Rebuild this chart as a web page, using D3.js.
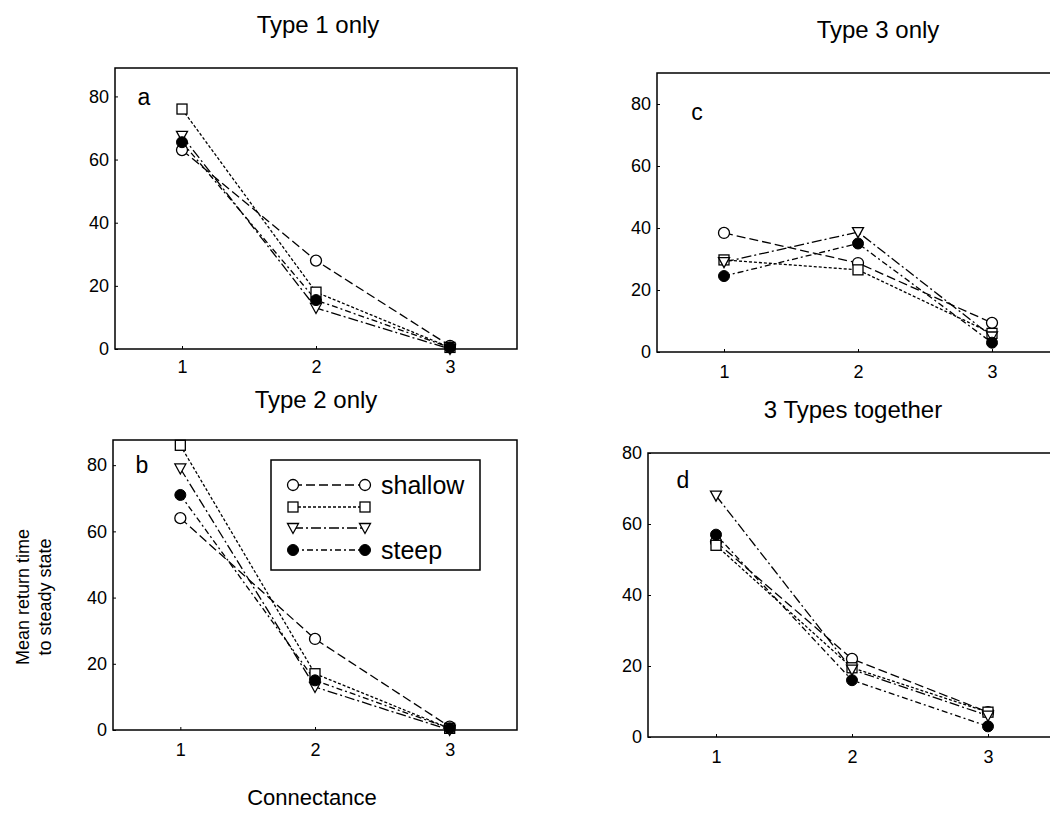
<!DOCTYPE html>
<html><head><meta charset="utf-8">
<script src="https://cdn.jsdelivr.net/npm/d3@7"></script>
<style>body{margin:0;background:#fff}svg{display:block}text{font-family:"Liberation Sans",Arial,sans-serif;fill:#000}</style>
</head><body><svg id="c" width="1050" height="814"></svg>
<script>
const connectance = [1, 2, 3];
const seriesNames = ["shallow", "", "", "steep"];
const yTicks = [0, 20, 40, 60, 80];
const panelTitles = ["Type 1 only", "Type 2 only", "Type 3 only", "3 Types together"];
const panelLetters = ["a", "b", "c", "d"];
// series: shallow(circle), square, triangle, steep(filled)
const type1Shallow = [63, 28, 1];
const type1Square = [76, 18, 0.5];
const type1Triangle = [67.5, 13, 0];
const type1Steep = [65.5, 15.5, 0.5];
const type2Shallow = [64, 27.5, 1];
const type2Square = [86, 17, 0.5];
const type2Triangle = [79, 13, 0];
const type2Steep = [71, 15, 0.5];
const type3Shallow = [38.4, 28.7, 9.4];
const type3Square = [29.7, 26.5, 6];
const type3Triangle = [29, 38.7, 5];
const type3Steep = [24.5, 35, 3];
const allShallow = [55, 22, 7];
const allSquare = [54, 19.5, 7];
const allTriangle = [68, 19, 6];
const allSteep = [57, 16, 3];

const svg = d3.select("#c");
const styles = [
  {dash: "9,4", sym: "circle"},
  {dash: "3,2", sym: "square"},
  {dash: "10,3,2,3", sym: "triangle"},
  {dash: "6,3,2,3", sym: "filled"}
];
const panels = [
  {L:115, R:517, T:68, B:349, ymax:89, data:[type1Shallow,type1Square,type1Triangle,type1Steep], title:[318,25], letter:[144,97], tickY:367},
  {L:113, R:517, T:440, B:730, ymax:87.6, data:[type2Shallow,type2Square,type2Triangle,type2Steep], title:[316,400], letter:[142,465], tickY:750, legend:true},
  {L:657, R:1059, T:73, B:352, ymax:90, data:[type3Shallow,type3Square,type3Triangle,type3Steep], title:[878,30], letter:[697,112], tickY:372},
  {L:648, R:1056, T:453, B:737, ymax:80, data:[allShallow,allSquare,allTriangle,allSteep], title:[853,410], letter:[683,480], tickY:757}
];

function drawSym(g, sym, x, y) {
  if (sym === "circle") g.append("circle").attr("cx",x).attr("cy",y).attr("r",5.5).attr("fill","#fff").attr("stroke","#000").attr("stroke-width",1.3);
  else if (sym === "filled") g.append("circle").attr("cx",x).attr("cy",y).attr("r",5.5).attr("fill","#000").attr("stroke","#000").attr("stroke-width",1);
  else if (sym === "square") g.append("rect").attr("x",x-5).attr("y",y-5).attr("width",10).attr("height",10).attr("fill","#fff").attr("stroke","#000").attr("stroke-width",1.3);
  else g.append("path").attr("d",`M${x-5.5},${y-4.5}L${x+5.5},${y-4.5}L${x},${y+5.5}Z`).attr("fill","#fff").attr("stroke","#000").attr("stroke-width",1.3);
}

panels.forEach((p, i) => {
  const x = d3.scaleLinear().domain([0.5, 3.5]).range([p.L, p.R]);
  const y = d3.scaleLinear().domain([0, p.ymax]).range([p.B, p.T]);
  const g = svg.append("g");
  g.append("rect").attr("x",p.L).attr("y",p.T).attr("width",p.R-p.L).attr("height",p.B-p.T)
    .attr("fill","none").attr("stroke","#000").attr("stroke-width",1.5);
  const ya = d3.axisLeft(y).tickValues(yTicks).tickSize(-3).tickPadding(6).tickFormat(d3.format("d"));
  const yg = g.append("g").attr("transform",`translate(${p.L},0)`).call(ya);
  yg.select(".domain").remove();
  yg.selectAll("text").style("font-size","18px");
  yg.selectAll("line").attr("stroke","#000");
  const xa = d3.axisBottom(x).tickValues(connectance).tickSize(-3).tickPadding(0).tickFormat(d3.format("d"));
  const xg = g.append("g").attr("transform",`translate(0,${p.B})`).call(xa);
  xg.select(".domain").remove();
  xg.selectAll("text").attr("y", p.tickY - p.B).attr("dy","0.35em").style("font-size","18px");
  g.append("text").attr("x",p.title[0]).attr("y",p.title[1]).attr("dy","0.35em").attr("text-anchor","middle").style("font-size","24px").text(panelTitles[i]);
  g.append("text").attr("x",p.letter[0]).attr("y",p.letter[1]).attr("dy","0.35em").attr("text-anchor","middle").style("font-size","23px").text(panelLetters[i]);
  const line = d3.line().x((d,k)=>x(connectance[k])).y(d=>y(d));
  p.data.forEach((s, j) => {
    g.append("path").attr("d",line(s)).attr("fill","none").attr("stroke","#000").attr("stroke-width",1.3).attr("stroke-dasharray",styles[j].dash);
  });
  p.data.forEach((s, j) => {
    s.forEach((v,k) => drawSym(g, styles[j].sym, x(connectance[k]), y(v)));
  });
  if (p.legend) {
    const lg = svg.append("g");
    lg.append("rect").attr("x",271).attr("y",460).attr("width",209).attr("height",110).attr("fill","#fff").attr("stroke","#000").attr("stroke-width",1.5);
    const rows = [485, 507, 528, 550];
    rows.forEach((ry, j) => {
      lg.append("line").attr("x1",293).attr("x2",365).attr("y1",ry).attr("y2",ry).attr("stroke","#000").attr("stroke-width",1.3).attr("stroke-dasharray",styles[j].dash);
      drawSym(lg, styles[j].sym, 293, ry);
      drawSym(lg, styles[j].sym, 365, ry);
      if (seriesNames[j]) lg.append("text").attr("x",381).attr("y",ry).attr("dy","0.35em").style("font-size","25px").text(seriesNames[j]);
    });
  }
});
svg.append("text").attr("transform","translate(23,597) rotate(-90)").attr("text-anchor","middle").attr("dy","0.35em").style("font-size","18px").text("Mean return time");
svg.append("text").attr("transform","translate(45,597) rotate(-90)").attr("text-anchor","middle").attr("dy","0.35em").style("font-size","18px").text("to steady state");
svg.append("text").attr("x",312).attr("y",797).attr("dy","0.35em").attr("text-anchor","middle").style("font-size","22px").text("Connectance");
</script></body></html>
